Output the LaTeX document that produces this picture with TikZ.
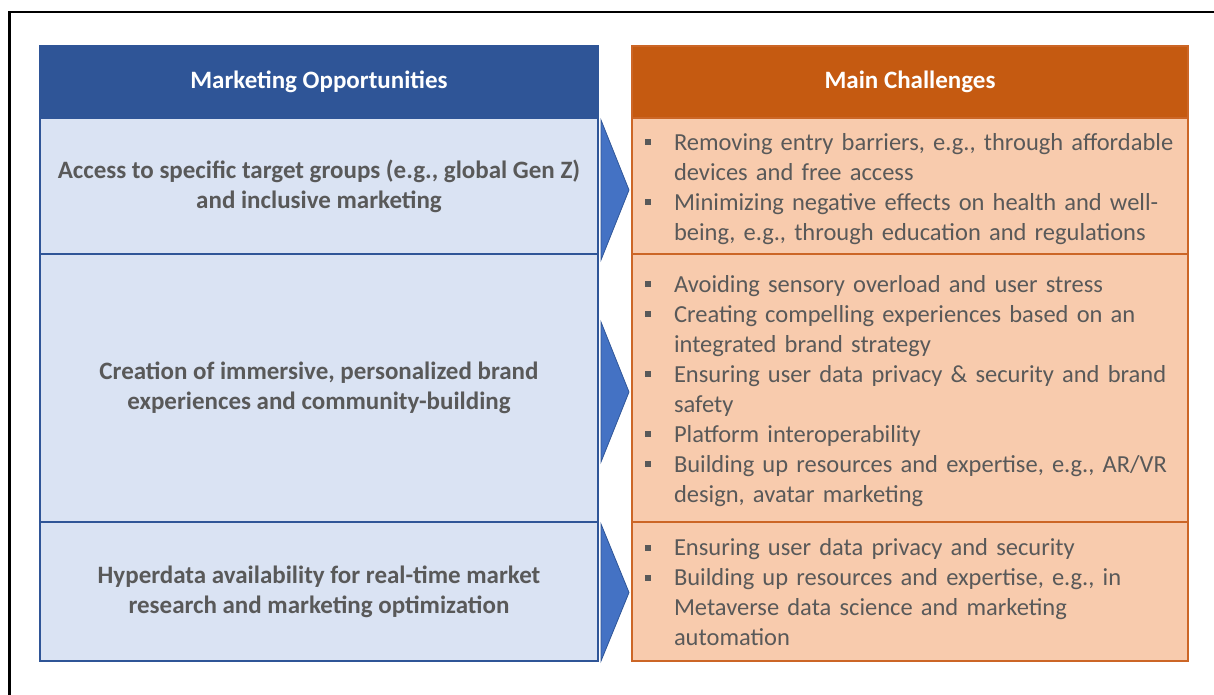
\documentclass[tikz,border=0pt]{standalone}
\usepackage{fontspec}
\setmainfont{Carlito}
\usepackage{tikz}
\usetikzlibrary{positioning}
\usetikzlibrary{shapes.geometric}
\definecolor{oppblue}{HTML}{2F5597}
\definecolor{opplight}{HTML}{DAE3F3}
\definecolor{trifill}{HTML}{4472C4}
\definecolor{chalorange}{HTML}{C55A11}
\definecolor{challine}{HTML}{CC6626}
\definecolor{challight}{HTML}{F8CBAD}
\definecolor{txtgray}{HTML}{595959}
\newcommand\chalitem[1]{\noindent\hangindent=29pt\hangafter=1\makebox[29pt][l]{\raisebox{5pt}{\rule{6pt}{6pt}}}#1\par}

\begin{document}
\begin{tikzpicture}[x=1pt,y=-1pt,
    every node/.style={outer sep=0pt,font=\fontsize{24.5}{30}\selectfont},
    oppcell/.style={draw=oppblue,line width=2pt,fill=opplight,minimum width=558pt,text=txtgray,font=\bfseries\fontsize{25}{30}\selectfont,align=center},
    opphead/.style={oppcell,fill=oppblue,text=white},
    chalcell/.style={draw=challine,line width=2pt,fill=challight,minimum width=556pt},
    chalhead/.style={chalcell,fill=chalorange,text=white,font=\bfseries\fontsize{25}{30}\selectfont},
    chaltext/.style={anchor=west,inner sep=0pt,text width=540pt,text=txtgray,execute at begin node=\raggedright},
    arrowtri/.style={isosceles triangle,isosceles triangle stretches,shape border rotate=0,minimum width=140pt,minimum height=28pt,inner sep=0pt,fill=trifill,draw=oppblue,line width=0.8pt,anchor=lower side}]
  \clip (0,0) rectangle (1214,695);
  \draw[line width=2.5pt] (9.5,12) rectangle (1240,720);

  \node[opphead,minimum height=72pt,anchor=north west] (oh) at (40,46) {Marketing Opportunities};
  \node[oppcell,minimum height=136pt,below=0pt of oh] (o1) {Access to specific target groups (e.g., global Gen Z)\\and inclusive marketing};
  \node[oppcell,minimum height=268pt,below=0pt of o1] (o2) {Creation of immersive, personalized brand\\experiences and community-building};
  \node[oppcell,minimum height=139pt,below=0pt of o2] (o3) {Hyperdata availability for real-time market\\research and marketing optimization};

  \node[chalhead,minimum height=72pt,anchor=north west] (ch) at (632,46) {Main Challenges};
  \node[chalcell,minimum height=136pt,below=0pt of ch] (c1) {};
  \node[chalcell,minimum height=268pt,below=0pt of c1] (c2) {};
  \node[chalcell,minimum height=139pt,below=0pt of c2] (c3) {};

  \node[chaltext,right=13pt of c1.west,yshift=-3pt] (t1) {\chalitem{Removing entry barriers, e.g., through affordable\newline devices and free access}
    \chalitem{Minimizing negative effects on health and well-\newline being, e.g., through education and regulations}};
  \node[chaltext,right=13pt of c2.west,yshift=-3pt] (t2) {\chalitem{Avoiding sensory overload and user stress}
    \chalitem{Creating compelling experiences based on an\newline integrated brand strategy}
    \chalitem{Ensuring user data privacy \& security and brand\newline safety}
    \chalitem{Platform interoperability}
    \chalitem{Building up resources and expertise, e.g., AR/VR\newline design, avatar marketing}};
  \node[chaltext,right=13pt of c3.west,yshift=-1pt] (t3) {\chalitem{Ensuring user data privacy and security}
    \chalitem{Building up resources and expertise, e.g., in\newline Metaverse data science and marketing\newline automation}};

  \node[arrowtri] (a1) at ([xshift=3pt,yshift=-4pt]o1.east) {};
  \node[arrowtri] (a2) at ([xshift=3pt,yshift=-4pt]o2.east) {};
  \node[arrowtri,minimum width=137pt] (a3) at ([xshift=3pt,yshift=-1pt]o3.east) {};
\end{tikzpicture}
\end{document}
